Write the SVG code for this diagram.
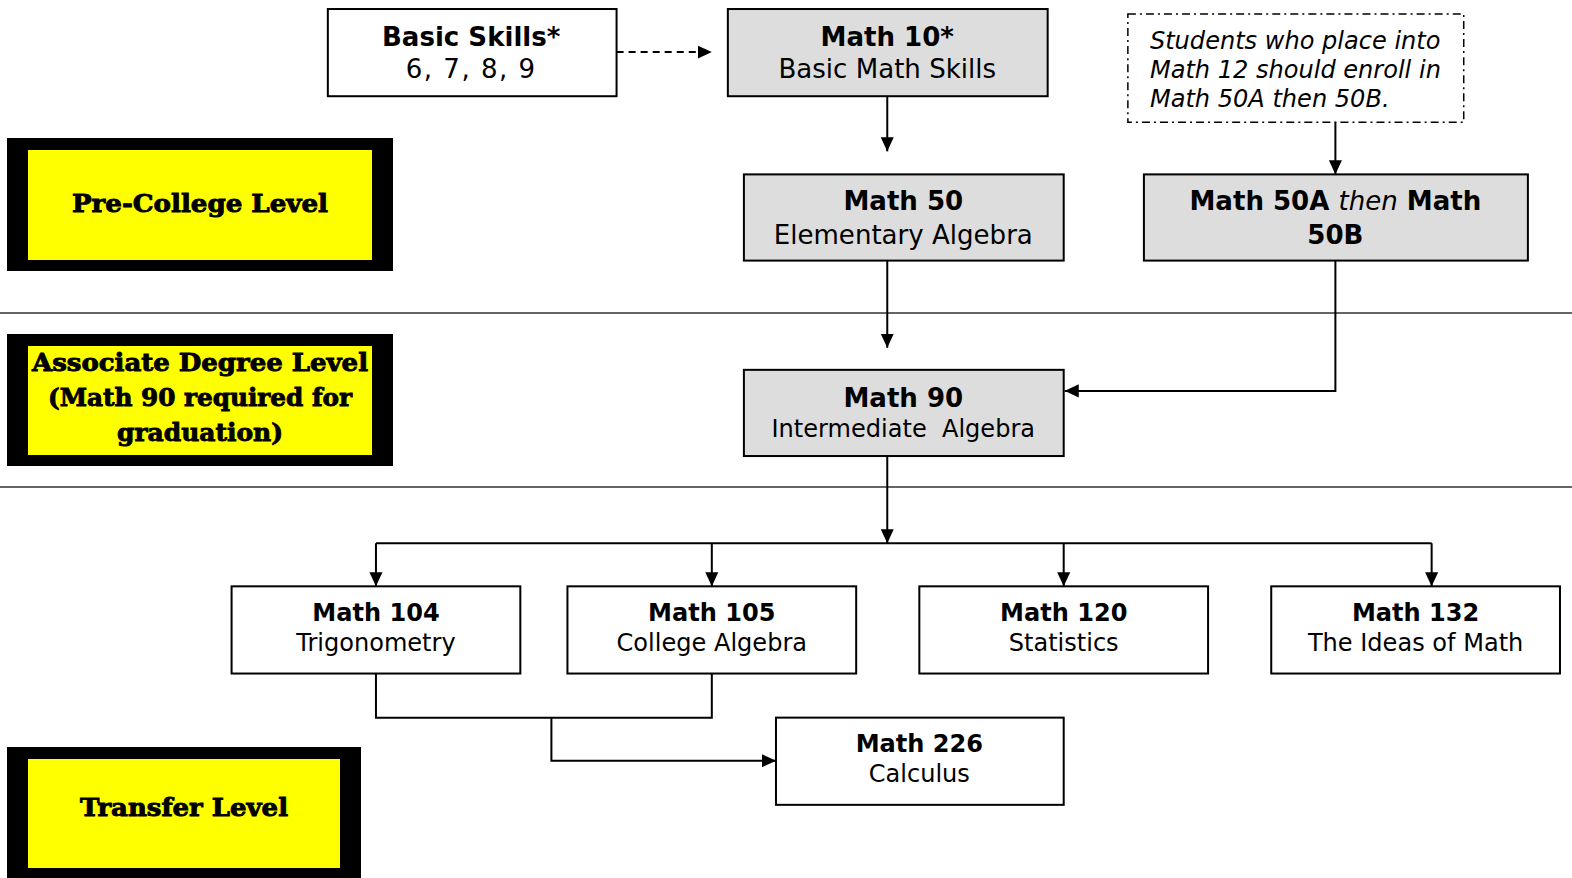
<svg xmlns="http://www.w3.org/2000/svg" width="1572" height="878" viewBox="0 0 1572 878">
<defs>
<marker id="ah" viewBox="0 0 14 14" refX="14" refY="7" markerWidth="14" markerHeight="14" markerUnits="userSpaceOnUse" orient="auto">
<path d="M0,0.5 L14,7 L0,13.5 Z" fill="#000"/>
</marker>
<style>
.box{fill:#fff;stroke:#000;stroke-width:2}
.gbox{fill:#dddddd;stroke:#000;stroke-width:2}
.t{font-family:"DejaVu Sans",Verdana,sans-serif;fill:#000;text-anchor:middle}
.n{font-family:"DejaVu Sans",Verdana,sans-serif;fill:#000;text-anchor:start;font-style:italic;font-size:24px}
.b{font-weight:bold}
.lvl{font-family:"DejaVu Serif","Liberation Serif",serif;font-weight:bold;font-size:25px;text-anchor:middle;fill:#000;stroke:#000;stroke-width:0.9}
.c{fill:none;stroke:#000;stroke-width:2}
.sep{stroke:#333;stroke-width:1.5}
</style>
</defs>
<rect width="1572" height="878" fill="#fff"/>

<g id="separators">
<line class="sep" x1="0" y1="313" x2="1572" y2="313"/>
<line class="sep" x1="0" y1="487" x2="1572" y2="487"/>
</g>

<g id="level-precollege">
<rect x="7" y="138" width="386" height="133" fill="#000"/>
<rect x="28" y="150" width="344" height="110" fill="#ffff00"/>
<text class="lvl" x="200" y="212" textLength="256" lengthAdjust="spacingAndGlyphs">Pre-College Level</text>
</g>
<g id="level-associate">
<rect x="7" y="334" width="386" height="132" fill="#000"/>
<rect x="28" y="346" width="344" height="109" fill="#ffff00"/>
<text class="lvl" x="200" y="371" textLength="336" lengthAdjust="spacingAndGlyphs">Associate Degree Level</text>
<text class="lvl" x="200" y="406" textLength="304" lengthAdjust="spacingAndGlyphs">(Math 90 required for</text>
<text class="lvl" x="200" y="441" textLength="166" lengthAdjust="spacingAndGlyphs">graduation)</text>
</g>
<g id="level-transfer">
<rect x="7" y="747" width="354" height="140" fill="#000"/>
<rect x="28" y="759" width="312" height="109" fill="#ffff00"/>
<text class="lvl" x="184" y="816" textLength="208" lengthAdjust="spacingAndGlyphs">Transfer Level</text>
</g>

<g transform="scale(1.00255,1.00228)">
<g id="connectors">
<line class="c" x1="615" y1="52" x2="710" y2="52" stroke-dasharray="7,5" marker-end="url(#ah)"/>
<line class="c" x1="885" y1="96" x2="885" y2="151" marker-end="url(#ah)"/>
<line class="c" x1="1332" y1="122" x2="1332" y2="174" marker-end="url(#ah)"/>
<line class="c" x1="885" y1="260" x2="885" y2="347" marker-end="url(#ah)"/>
<polyline class="c" points="1332,260 1332,390 1062,390" marker-end="url(#ah)"/>
<line class="c" x1="885" y1="455" x2="885" y2="542" marker-end="url(#ah)"/>
<line class="c" x1="375" y1="542" x2="1428" y2="542"/>
<polyline class="c" points="375,542 375,585" marker-end="url(#ah)"/>
<polyline class="c" points="710,542 710,585" marker-end="url(#ah)"/>
<polyline class="c" points="1061,542 1061,585" marker-end="url(#ah)"/>
<polyline class="c" points="1428,542 1428,585" marker-end="url(#ah)"/>
<polyline class="c" points="375,672 375,716 710,716 710,672"/>
<polyline class="c" points="550,716 550,759 774,759" marker-end="url(#ah)"/>
</g>

<g id="basic-skills">
<rect class="box" x="327" y="9" width="288" height="87"/>
<text class="t b" x="470" y="46" font-size="26">Basic Skills*</text>
<text class="t" x="470" y="78" font-size="26" letter-spacing="1.5">6, 7, 8, 9</text>
</g>
<g id="math10">
<rect class="gbox" x="726" y="9" width="319" height="87"/>
<text class="t b" x="885" y="46" font-size="26">Math 10*</text>
<text class="t" x="885" y="78" font-size="26">Basic Math Skills</text>
</g>
<g id="note">
<rect x="1125" y="14" width="335" height="108" fill="#fff" stroke="#000" stroke-width="1.5" stroke-dasharray="8,4,2,4"/>
<text class="n" x="1147" y="49">Students who place into</text>
<text class="n" x="1147" y="78">Math 12 should enroll in</text>
<text class="n" x="1147" y="107">Math 50A then 50B.</text>
</g>
<g id="math50">
<rect class="gbox" x="742" y="174" width="319" height="86"/>
<text class="t b" x="901" y="210" font-size="26">Math 50</text>
<text class="t" x="901" y="243" font-size="26">Elementary Algebra</text>
</g>
<g id="math50ab">
<rect class="gbox" x="1141" y="174" width="383" height="86"/>
<text class="t" x="1332" y="210" font-size="26"><tspan class="b">Math 50A </tspan><tspan font-style="italic">then</tspan><tspan class="b"> Math</tspan></text>
<text class="t b" x="1332" y="243" font-size="26">50B</text>
</g>
<g id="math90">
<rect class="gbox" x="742" y="369" width="319" height="86"/>
<text class="t b" x="901" y="406" font-size="26">Math 90</text>
<text class="t" x="901" y="436" font-size="24" xml:space="preserve">Intermediate  Algebra</text>
</g>
<g id="math104">
<rect class="box" x="231" y="585" width="288" height="87"/>
<text class="t b" x="375" y="620" font-size="24">Math 104</text>
<text class="t" x="375" y="650" font-size="24">Trigonometry</text>
</g>
<g id="math105">
<rect class="box" x="566" y="585" width="288" height="87"/>
<text class="t b" x="710" y="620" font-size="24">Math 105</text>
<text class="t" x="710" y="650" font-size="24">College Algebra</text>
</g>
<g id="math120">
<rect class="box" x="917" y="585" width="288" height="87"/>
<text class="t b" x="1061" y="620" font-size="24">Math 120</text>
<text class="t" x="1061" y="650" font-size="24">Statistics</text>
</g>
<g id="math132">
<rect class="box" x="1268" y="585" width="288" height="87"/>
<text class="t b" x="1412" y="620" font-size="24">Math 132</text>
<text class="t" x="1412" y="650" font-size="24">The Ideas of Math</text>
</g>
<g id="math226">
<rect class="box" x="774" y="716" width="287" height="87"/>
<text class="t b" x="917" y="750" font-size="24">Math 226</text>
<text class="t" x="917" y="780" font-size="24">Calculus</text>
</g>
</g>
</svg>
